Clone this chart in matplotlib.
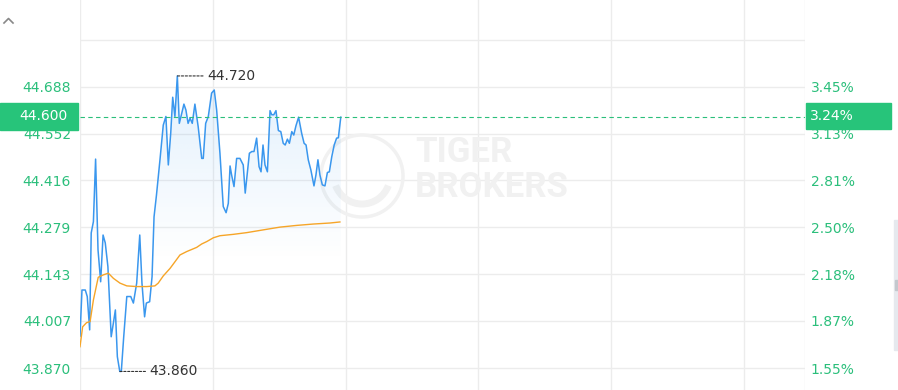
import numpy as np
import matplotlib
import matplotlib.pyplot as plt
from matplotlib.patches import Rectangle, Circle, Arc
from matplotlib.lines import Line2D
from matplotlib.transforms import IdentityTransform
import matplotlib.colors as mcolors

# intraday price (minutes since open, price)
minutes = [0, 0.9, 2.4, 3.3, 4.4, 5.1, 6.1, 7.1, 8.2, 9.4, 10.5, 11.5, 12.7, 14.2, 15.2,
           16.1, 17.0, 18.1, 18.8, 19.9, 21.3, 23.1, 24.3, 25.8, 27.2, 28.2, 29.4, 30.2,
           31.7, 32.8, 33.7, 34.8, 36.4, 37.9, 39.1, 40.2, 41.3, 42.2, 43.2, 44.3, 45.2,
           46.3, 47.3, 48.2, 49.2, 50.1, 51.1, 52.3, 53.8, 55.4, 56.1, 57.2, 58.4, 59.9,
           61.1, 62.2, 63.7, 65.2, 66.5, 67.5, 68.3, 69.0, 70.1, 71.3, 72.8, 74.3, 75.2,
           77.1, 78.2, 79.2, 80.4, 81.5, 82.4, 83.3, 84.2, 85.3, 86.5, 87.3, 88.2, 89.2,
           90.3, 91.4, 92.5, 93.4, 94.4, 95.3, 96.4, 97.3, 98.3, 99.5, 100.9, 102.0, 102.9,
           103.9, 105.1, 106.5, 107.4, 108.3, 109.2, 110.3, 111.5, 112.6, 113.5, 114.6,
           115.7, 116.8, 117.6, 118.7]
price = [43.963, 44.097, 44.097, 44.078, 43.981, 44.263, 44.296, 44.478, 44.214, 44.121,
         44.257, 44.234, 44.165, 43.961, 44.001, 44.039, 43.903, 43.860, 43.860, 43.961,
         44.078, 44.078, 44.059, 44.117, 44.257, 44.117, 44.019, 44.059, 44.063, 44.136,
         44.310, 44.373, 44.476, 44.577, 44.602, 44.461, 44.554, 44.658, 44.602, 44.720,
         44.582, 44.611, 44.638, 44.621, 44.582, 44.597, 44.582, 44.638, 44.572, 44.480,
         44.480, 44.582, 44.602, 44.670, 44.679, 44.621, 44.495, 44.340, 44.322, 44.349,
         44.458, 44.432, 44.398, 44.480, 44.480, 44.461, 44.379, 44.495, 44.500, 44.500,
         44.539, 44.456, 44.441, 44.519, 44.461, 44.441, 44.619, 44.607, 44.607, 44.619,
         44.561, 44.558, 44.524, 44.519, 44.536, 44.524, 44.558, 44.548, 44.575, 44.600,
         44.553, 44.524, 44.519, 44.476, 44.446, 44.400, 44.432, 44.476, 44.432, 44.403,
         44.400, 44.439, 44.441, 44.485, 44.519, 44.539, 44.540, 44.600]

# average price line
avg_minutes = [0, 1.2, 3.0, 4.6, 6.1, 8.3, 10.6, 12.9, 15.2, 18.2, 21.3, 25.8, 30.4, 34.1,
               35.6, 37.9, 41.0, 43.2, 45.5, 48.6, 53.1, 55.4, 57.7, 60.7, 63.7, 69.8,
               75.9, 83.4, 91.0, 98.6, 106.2, 113.8, 118.3]
avg_price = [43.932, 43.990, 44.002, 44.005, 44.068, 44.134, 44.141, 44.146, 44.131,
             44.117, 44.109, 44.107, 44.107, 44.109, 44.117, 44.138, 44.160, 44.179,
             44.199, 44.209, 44.221, 44.231, 44.238, 44.249, 44.255, 44.259, 44.264,
             44.272, 44.280, 44.285, 44.289, 44.292, 44.295]

price_ticks = [43.870, 44.007, 44.143, 44.279, 44.416, 44.552, 44.688, 44.825]
price_labels = ['43.870', '44.007', '44.143', '44.279', '44.416', '44.552', '44.688', '']
pct_labels = ['1.55%', '1.87%', '2.18%', '2.50%', '2.81%', '3.13%', '3.45%', '']
last_price = 44.600
last_pct = '3.24%'

GREEN = '#2bbf7b'
BOX = '#27c47a'
BLUE = '#3a97ee'
ORANGE = '#f6a528'
GRID = '#ececec'
MARK = '#f1f1f1'

W, H = 898, 390
fig = plt.figure(figsize=(W / 100, H / 100), dpi=100)
ax = fig.add_axes([80 / W, 0, 725 / W, 1])
ax.set_facecolor('white')
for s in ax.spines.values():
    s.set_visible(False)

ymin, ymax = 43.806, 44.941
xmax = 330

for v in price_ticks:
    ax.axhline(v, color=GRID, lw=1, zorder=0)
for g in np.arange(6) * 60.45:
    ax.axvline(g, color=GRID, lw=1, zorder=0)
ax.axvline(xmax, color=GRID, lw=1, zorder=0)

# watermark
ax.text(0.462, 0.61, 'TIGER', transform=ax.transAxes, fontsize=25, fontweight='bold',
        family='Roboto', color=MARK, va='center', ha='left', zorder=0.5)
ax.text(0.462, 0.52, 'BROKERS', transform=ax.transAxes, fontsize=25, fontweight='bold',
        family='Roboto', color=MARK, va='center', ha='left', zorder=0.5)
ax.add_patch(Circle((362, H - 176), 41, transform=IdentityTransform(), fill=False,
                    ec=MARK, lw=2.5, zorder=0.5))
ax.add_patch(Arc((362, H - 176), 56, 56, theta1=200, theta2=340,
                 transform=IdentityTransform(), ec=MARK, lw=5, zorder=0.5))

# gradient fill under price line
fill = ax.fill_between(minutes, price, ymin, color='none', lw=0)
rgb = mcolors.to_rgb('#3d9cf0')
grad = np.zeros((256, 1, 4))
grad[..., :3] = rgb
grad[..., 3] = np.linspace(0.15, 0.0, 256)[:, None]
im = ax.imshow(grad, extent=[0, max(minutes), 44.18, max(price)], origin='upper',
               aspect='auto', zorder=1, interpolation='bilinear')
im.set_clip_path(fill.get_paths()[0], ax.transData)

ax.plot(minutes, price, color=BLUE, lw=1.1, zorder=3)
ax.plot(avg_minutes, avg_price, color=ORANGE, lw=1.0, zorder=3)

ax.axhline(last_price, color=GREEN, lw=0.8, dashes=(4, 3), zorder=4)

# high / low marks
i_hi = int(np.argmax(price))
i_lo = int(np.argmin(price))
for i in (i_hi, i_lo):
    ax.annotate(f'{price[i]:.3f}', xy=(minutes[i], price[i]), xytext=(21.5, 0),
                textcoords='offset points', va='center', ha='left', fontsize=10,
                color='#333333',
                arrowprops=dict(arrowstyle='-', linestyle=(0, (2, 1.5)), color='#333333',
                                lw=0.8, shrinkA=1, shrinkB=0))

ax.set_xlim(0, xmax)
ax.set_ylim(ymin, ymax)
ax.set_xticks([])
ax.set_yticks(price_ticks)
ax.set_yticklabels(price_labels)
ax.tick_params(axis='y', length=0, pad=6.5, labelcolor=GREEN, labelsize=10)

ax2 = ax.twinx()
for s in ax2.spines.values():
    s.set_visible(False)
ax2.set_ylim(ymin, ymax)
ax2.set_yticks(price_ticks)
ax2.set_yticklabels(pct_labels)
ax2.tick_params(axis='y', length=0, pad=4, labelcolor=GREEN, labelsize=10)

# current price boxes
fig.add_artist(Rectangle((0, (H - 130) / H), 78 / W, 27 / H, transform=fig.transFigure,
                         color=BOX, zorder=5))
fig.text(68 / W, (H - 116.5) / H, f'{last_price:.3f}', color='white', fontsize=10,
         ha='right', va='center', zorder=6)
fig.add_artist(Rectangle((806 / W, (H - 129) / H), 85 / W, 26 / H, transform=fig.transFigure,
                         color=BOX, zorder=5))
fig.text(810 / W, (H - 116) / H, last_pct, color='white', fontsize=10,
         ha='left', va='center', zorder=6)

# collapse chevron and scrollbar
fig.add_artist(Line2D([4 / W, 8.5 / W, 13 / W], [(H - 23) / H, (H - 18.5) / H, (H - 23) / H],
                      transform=fig.transFigure, color='#888888', lw=1.2))
fig.add_artist(Rectangle((894 / W, (H - 350) / H), 4 / W, 130 / H, transform=fig.transFigure,
                         color='#e6e9ee', zorder=5))
fig.add_artist(Rectangle((895 / W, (H - 290) / H), 3 / W, 10 / H, transform=fig.transFigure,
                         color='#c4c8ce', zorder=6))

fig.savefig('out.png', dpi=100, facecolor='white')
